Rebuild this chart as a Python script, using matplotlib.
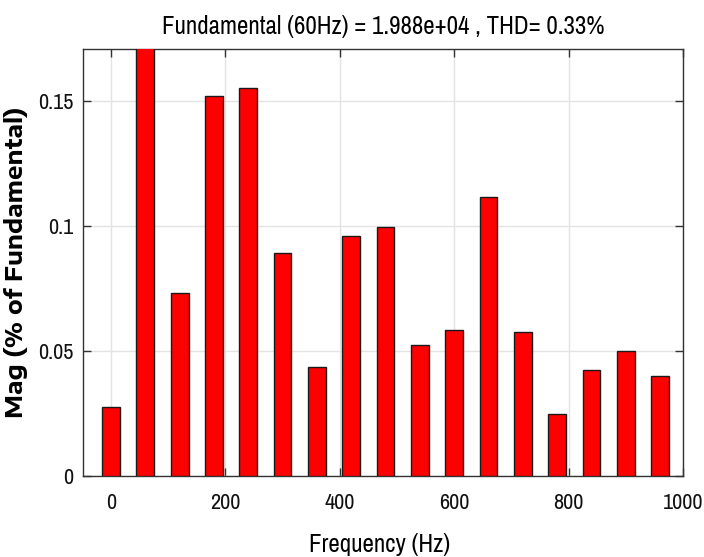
import matplotlib
matplotlib.use("Agg")
import matplotlib.pyplot as plt

freqs = [0, 60, 120, 180, 240, 300, 360, 420, 480, 540, 600, 660, 720, 780, 840, 900, 960]
mags = [0.0277, 100.0, 0.0733, 0.152, 0.1552, 0.0893, 0.0435, 0.096, 0.0997,
        0.0525, 0.0585, 0.1117, 0.0576, 0.0249, 0.0425, 0.0499, 0.0401]
xticks = [0, 200, 400, 600, 800, 1000]
yticks = [0, 0.05, 0.1, 0.15]
ytick_labels = ["0", "0.05", "0.1", "0.15"]
title = "Fundamental (60Hz) = 1.988e+04 , THD= 0.33%"

narrow = ["Archivo Narrow", "DejaVu Sans"]
wide = ["Encode Sans Expanded", "DejaVu Sans"]

fig = plt.figure(figsize=(7.04, 5.57), dpi=100)
ax = fig.add_axes([0.1179, 0.1454, 0.970 - 0.1179, 0.912 - 0.1454])

ax.bar(freqs, mags, width=31, color="#ff0000", edgecolor="#1a1a1a", linewidth=1.0, zorder=3)

ax.set_xlim(-49, 1000)
ax.set_ylim(0, 0.171)
ax.set_xticks(xticks)
ax.set_yticks(yticks)
ax.set_yticklabels(ytick_labels)

ax.grid(True, color="#e3e3e3", linewidth=1.0, zorder=0)
ax.set_axisbelow(True)
for s in ax.spines.values():
    s.set_color("#333333")
    s.set_linewidth(1.0)
ax.tick_params(direction="in", top=True, right=True, length=6, width=1, color="#333333",
               labelsize=16)
ax.tick_params(axis="x", pad=12)
ax.tick_params(axis="y", pad=7)
for lab in ax.get_xticklabels() + ax.get_yticklabels():
    lab.set_family(narrow)
    lab.set_color("#111111")

ax.set_title(title, family=narrow, fontsize=18, fontweight="bold", pad=11)
ax.set_xlabel("Frequency (Hz)", family=narrow, fontsize=18)
ax.xaxis.set_label_coords(0.495, -0.133)
ax.set_ylabel("Mag (% of Fundamental)", family=wide, fontsize=16.5, fontweight="bold")
ax.yaxis.set_label_coords(-0.092, 0.5)

fig.savefig("out.png", dpi=100)
